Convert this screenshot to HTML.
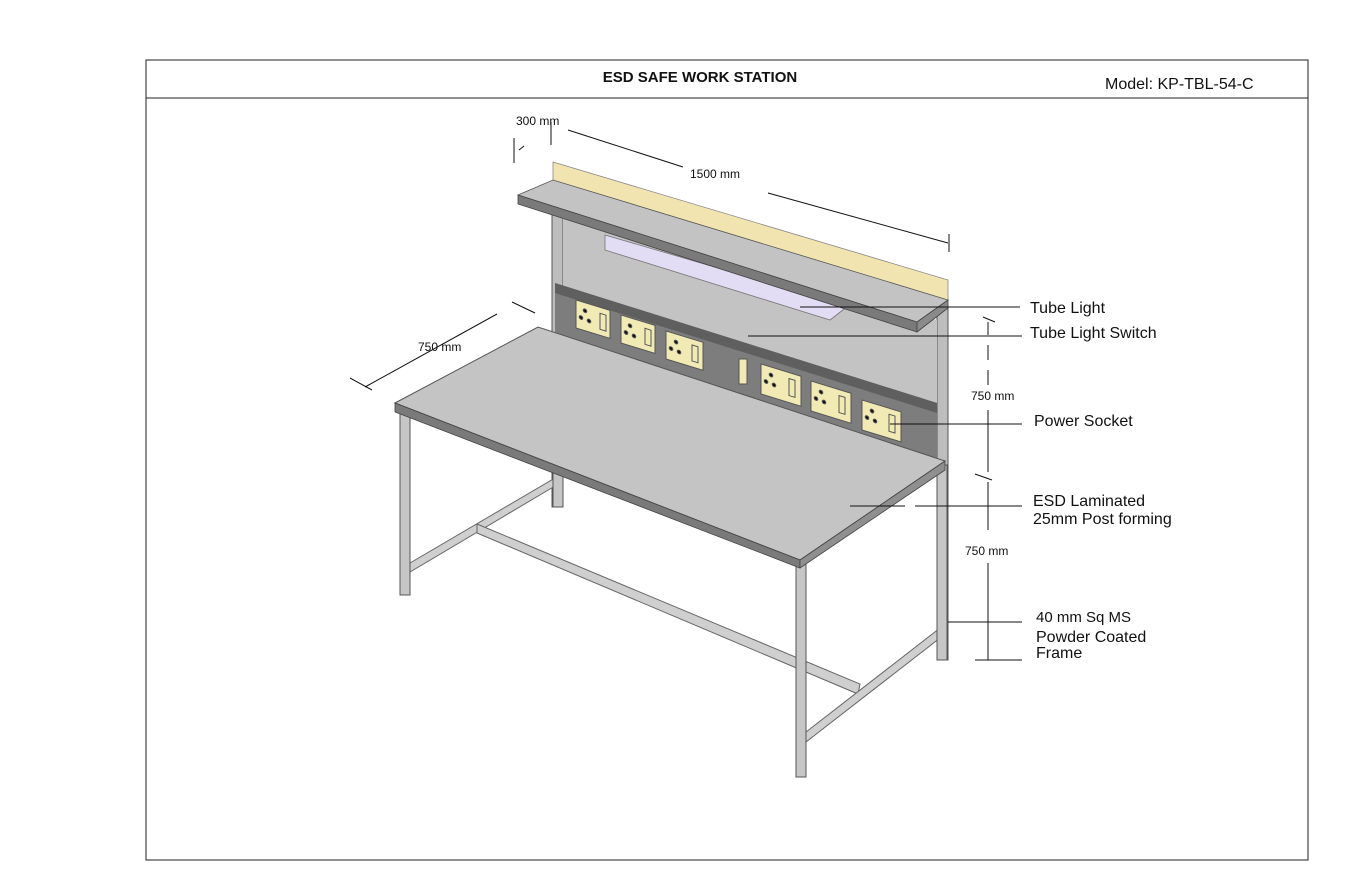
<!DOCTYPE html>
<html><head><meta charset="utf-8"><style>
html,body{margin:0;padding:0;background:#fff;}
svg{display:block;}
text{font-family:"Liberation Sans",sans-serif;fill:#111;}
</style></head><body>
<svg width="1360" height="884" viewBox="0 0 1360 884" xmlns="http://www.w3.org/2000/svg">
<rect x="146" y="60" width="1162" height="800" fill="none" stroke="#222" stroke-width="1"/>
<line x1="146" y1="98" x2="1308" y2="98" stroke="#222"/>
<text x="700" y="82" font-size="15" font-weight="bold" text-anchor="middle">ESD SAFE WORK STATION</text>
<text x="1105" y="89" font-size="16">Model: KP-TBL-54-C</text>

<!-- yellow backboard -->
<polygon points="553,162 948,280 948,302 553,184" fill="#f1e4b0" stroke="#888" stroke-width="0.8"/>
<!-- back posts -->
<rect x="552" y="200" width="11" height="307" fill="#bdbdbd" stroke="#555" stroke-width="1"/>
<rect x="937" y="305" width="11" height="355" fill="#bdbdbd" stroke="#555" stroke-width="1"/>
<!-- back panel -->
<polygon points="563,212 937,320 937,470 563,340" fill="#c3c3c3"/>
<!-- dark strip -->
<polygon points="555,283 937,403 937,470 555,335" fill="#7d7d7d"/>
<polygon points="555,283 937,403 937,413 555,293" fill="#5f5f5f"/>
<!-- sockets -->
<g stroke="#555" stroke-width="1" fill="#f2eab5">
<g transform="translate(576,300) skewY(17)"><rect width="34" height="28"/><rect x="24" y="6" width="6" height="16" fill="none"/><circle cx="9" cy="8" r="1.8" fill="#111"/><circle cx="5" cy="16" r="1.8" fill="#111"/><circle cx="13" cy="17" r="1.8" fill="#111"/></g>
<g transform="translate(621,315) skewY(17)"><rect width="34" height="28"/><rect x="24" y="6" width="6" height="16" fill="none"/><circle cx="9" cy="8" r="1.8" fill="#111"/><circle cx="5" cy="16" r="1.8" fill="#111"/><circle cx="13" cy="17" r="1.8" fill="#111"/></g>
<g transform="translate(666,331) skewY(17)"><rect width="37" height="28"/><rect x="26" y="6" width="6" height="16" fill="none"/><circle cx="10" cy="8" r="1.8" fill="#111"/><circle cx="5" cy="16" r="1.8" fill="#111"/><circle cx="13" cy="17" r="1.8" fill="#111"/></g>
<g transform="translate(761,364) skewY(17)"><rect width="40" height="30"/><rect x="28" y="6" width="6" height="17" fill="none"/><circle cx="10" cy="8" r="1.8" fill="#111"/><circle cx="5" cy="16" r="1.8" fill="#111"/><circle cx="13" cy="17" r="1.8" fill="#111"/></g>
<g transform="translate(811,381) skewY(17)"><rect width="40" height="30"/><rect x="28" y="6" width="6" height="17" fill="none"/><circle cx="10" cy="8" r="1.8" fill="#111"/><circle cx="5" cy="16" r="1.8" fill="#111"/><circle cx="13" cy="17" r="1.8" fill="#111"/></g>
<g transform="translate(862,400) skewY(17)"><rect width="39" height="30"/><rect x="27" y="6" width="6" height="17" fill="none"/><circle cx="10" cy="8" r="1.8" fill="#111"/><circle cx="5" cy="16" r="1.8" fill="#111"/><circle cx="13" cy="17" r="1.8" fill="#111"/></g>
<rect x="739" y="359" width="8" height="25" fill="#f2eab5"/>
</g>
<!-- tube light -->
<polygon points="605,235 848,306 830,320 605,250" fill="#e2dcf4" stroke="#777" stroke-width="0.8"/>
<!-- shelf -->
<polygon points="518,195 553,180 948,300 917,322" fill="#c3c3c3" stroke="#555" stroke-width="0.8"/>
<polygon points="518,195 917,322 917,332 518,204" fill="#7a7a7a" stroke="#444" stroke-width="0.8"/>
<polygon points="917,322 948,300 948,308 917,332" fill="#8a8a8a" stroke="#444" stroke-width="0.8"/>

<!-- rails -->
<g fill="#cfcfcf" stroke="#666" stroke-width="1">
<polygon points="410,563 555,478 555,486 410,572"/>
<polygon points="477,524 860,684 858,694 477,533"/>
<polygon points="806,732 940,628 940,638 806,742"/>
</g>
<!-- legs -->
<g fill="#c6c6c6" stroke="#555" stroke-width="1">
<rect x="553" y="470" width="10" height="37"/>
<rect x="400" y="410" width="10" height="185"/>
<rect x="796" y="563" width="10" height="214"/>
<rect x="937" y="465" width="10" height="195"/>
</g>
<!-- desktop -->
<polygon points="395,403 538,327 945,461 800,560" fill="#c4c4c4" stroke="#555" stroke-width="1"/>
<polygon points="395,403 800,560 800,568 395,412" fill="#7a7a7a" stroke="#444" stroke-width="0.8"/>
<polygon points="800,560 945,461 945,470 800,568" fill="#8f8f8f" stroke="#444" stroke-width="0.8"/>

<!-- leader lines -->
<g stroke="#111" stroke-width="1" fill="none">
<line x1="800" y1="307" x2="1020" y2="307"/>
<line x1="748" y1="336" x2="1022" y2="336"/>
<line x1="890" y1="424" x2="1022" y2="424"/>
<line x1="850" y1="506" x2="905" y2="506"/>
<line x1="915" y1="506" x2="1022" y2="506"/>
<line x1="948" y1="622" x2="1022" y2="622"/>
<!-- dims -->
<line x1="568" y1="130" x2="683" y2="167"/>
<line x1="768" y1="193" x2="948" y2="243"/>
<line x1="949" y1="234" x2="949" y2="252"/>
<line x1="551" y1="122" x2="551" y2="145"/>
<line x1="514" y1="138" x2="514" y2="163"/>
<line x1="519" y1="150" x2="524" y2="146"/>
<line x1="365" y1="387" x2="497" y2="314"/>
<line x1="350" y1="378" x2="372" y2="390"/>
<line x1="512" y1="302" x2="535" y2="313"/>
<line x1="983" y1="317" x2="995" y2="322"/>
<line x1="988" y1="322" x2="988" y2="335"/>
<line x1="988" y1="345" x2="988" y2="360"/>
<line x1="988" y1="370" x2="988" y2="385"/>
<line x1="988" y1="410" x2="988" y2="472"/>
<line x1="975" y1="474" x2="992" y2="480"/>
<line x1="988" y1="482" x2="988" y2="530"/>
<line x1="988" y1="563" x2="988" y2="660"/>
<line x1="975" y1="660" x2="1022" y2="660"/>
</g>
<text x="516" y="125" font-size="12">300 mm</text>
<text x="690" y="178" font-size="12">1500 mm</text>
<text x="418" y="351" font-size="12">750 mm</text>
<text x="971" y="400" font-size="12">750 mm</text>
<text x="965" y="555" font-size="12">750 mm</text>
<text x="1030" y="313" font-size="16">Tube Light</text>
<text x="1030" y="338" font-size="16">Tube Light Switch</text>
<text x="1034" y="426" font-size="16">Power Socket</text>
<text x="1033" y="506" font-size="16">ESD Laminated</text>
<text x="1033" y="524" font-size="16">25mm Post forming</text>
<text x="1036" y="622" font-size="15">40 mm Sq MS</text>
<text x="1036" y="642" font-size="16">Powder Coated</text>
<text x="1036" y="658" font-size="16">Frame</text>
</svg>
</body></html>
